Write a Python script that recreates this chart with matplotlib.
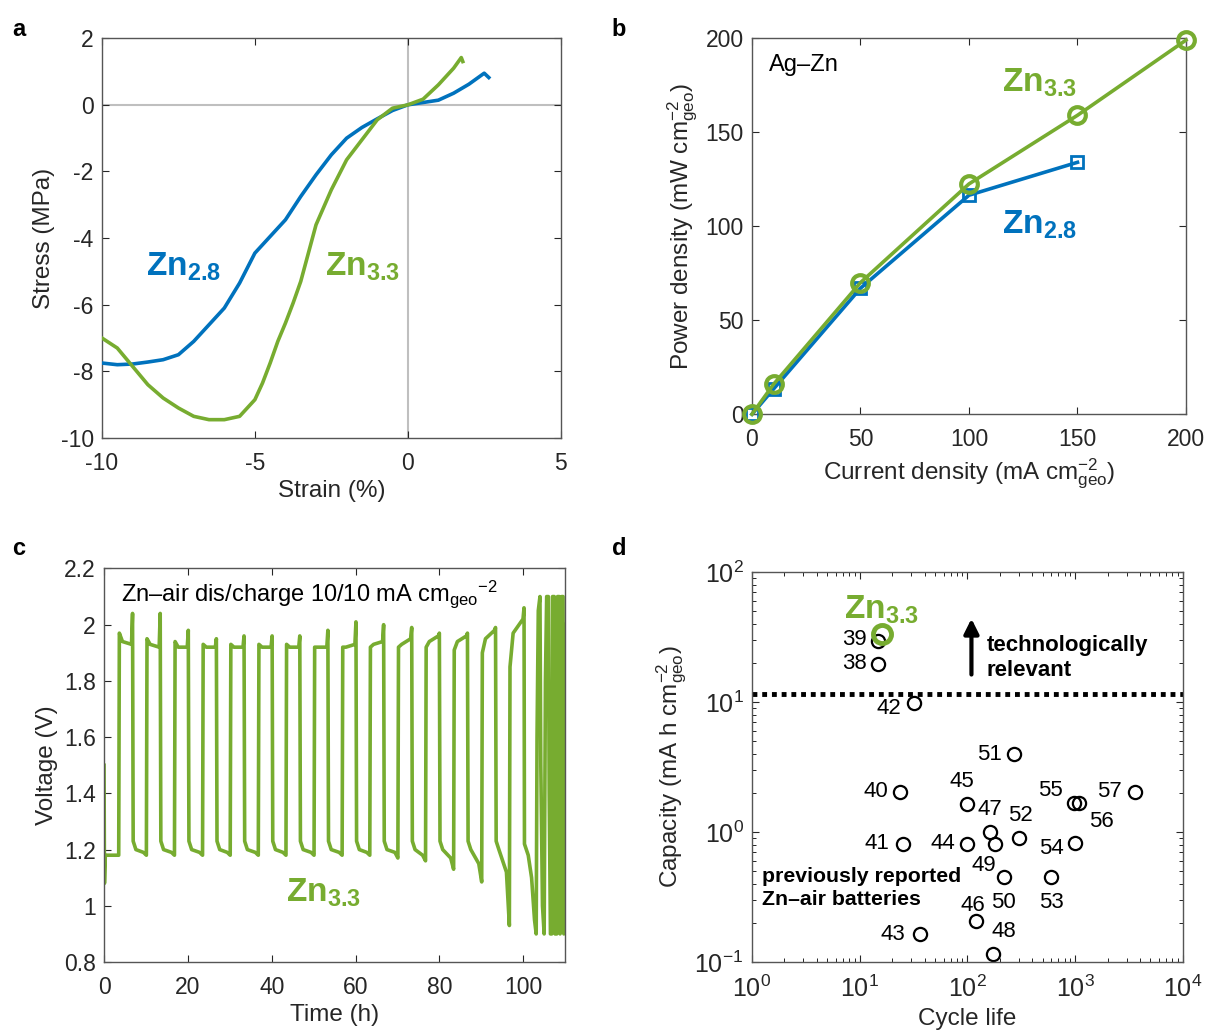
import numpy as np
import matplotlib
matplotlib.use('Agg')
import matplotlib.pyplot as plt
from matplotlib.ticker import FormatStrFormatter, LogLocator, NullFormatter

plt.rcParams['font.family'] = 'Liberation Sans'
plt.rcParams['mathtext.fontset'] = 'custom'
plt.rcParams['mathtext.rm'] = 'Liberation Sans'
plt.rcParams['mathtext.it'] = 'Liberation Sans:italic'
plt.rcParams['mathtext.bf'] = 'Liberation Sans:bold'
plt.rcParams['axes.unicode_minus'] = False

BLUE = '#0072BD'
GREEN = '#77AC30'
FRAME = '#555555'
TXT = '#262626'

##### DATA #####

# a: stress-strain
a_blue_x = [-10, -9.5, -9.0, -8.5, -8.0, -7.5, -7.0, -6.5, -6.0, -5.5, -5.0, -4.5, -4.0, -3.5,
            -3.0, -2.5, -2.0, -1.5, -1.0, -0.5, 0, 0.5, 1.0, 1.5, 2.0, 2.5, 2.65]
a_blue_y = [-7.75, -7.8, -7.78, -7.72, -7.65, -7.5, -7.1, -6.6, -6.1, -5.35, -4.45, -3.95, -3.45, -2.75,
            -2.1, -1.5, -1.0, -0.68, -0.42, -0.17, 0, 0.07, 0.14, 0.35, 0.62, 0.95, 0.82]
a_green_x = [-10, -9.5, -9.0, -8.5, -8.0, -7.5, -7.0, -6.5, -6.0, -5.5, -5.0, -4.75, -4.5, -4.25, -4.0,
             -3.75, -3.5, -3.25, -3.0, -2.5, -2.0, -1.5, -1.0, -0.5, 0, 0.5, 1.0, 1.5, 1.75, 1.8]
a_green_y = [-7.0, -7.3, -7.85, -8.4, -8.8, -9.1, -9.35, -9.45, -9.45, -9.35, -8.85, -8.35, -7.75, -7.1, -6.55,
             -5.95, -5.3, -4.45, -3.6, -2.55, -1.65, -1.05, -0.45, -0.1, 0, 0.17, 0.6, 1.1, 1.42, 1.3]

# b: power density
b_green_x = [0, 10, 50, 100, 150, 200]
b_green_y = [0, 16, 70, 122.5, 159, 199]
b_blue_x = [0, 10, 50, 100, 150]
b_blue_y = [0, 13.5, 67, 116.5, 134]

# c: Zn-air cycling, per cycle key values
c_start_t = [0.0, 0.1, 0.3]
c_start_v = [1.50, 1.08, 1.18]
c_charge_t = [3.5, 10.1, 16.8, 23.5, 30.1, 36.8, 43.4, 50.1, 56.8, 63.4, 70.1, 76.7, 83.4, 90.1, 96.7]
c_peak_t = [6.8, 13.4, 20.1, 26.8, 33.4, 40.1, 46.7, 53.4, 60.1, 66.7, 73.4, 80.0, 86.7, 93.4, 100.2]
c_charge_v0 = [1.97, 1.95, 1.94, 1.93, 1.93, 1.93, 1.93, 1.92, 1.92, 1.92, 1.92, 1.92, 1.91, 1.90, 1.85]
c_charge_v1 = [1.94, 1.93, 1.92, 1.92, 1.92, 1.92, 1.92, 1.92, 1.92, 1.93, 1.93, 1.94, 1.94, 1.95, 1.97]
c_charge_v2 = [1.93, 1.92, 1.92, 1.92, 1.92, 1.92, 1.92, 1.92, 1.93, 1.94, 1.95, 1.96, 1.96, 1.98, 2.02]
c_peak_v = [2.04, 2.04, 1.98, 1.95, 1.96, 1.96, 1.96, 1.98, 2.01, 2.00, 1.99, 1.97, 1.97, 1.99, 2.06]
c_dis_end = [1.18, 1.18, 1.18, 1.18, 1.18, 1.18, 1.18, 1.18, 1.18, 1.18, 1.17, 1.16, 1.13, 1.085, 0.93]
c_dis_pre = [1.18, 1.19, 1.19, 1.19, 1.19, 1.19, 1.19, 1.19, 1.19, 1.19, 1.19, 1.18, 1.17, 1.15, 1.12]
c_tail_t = [100.3, 101.2, 102.0, 102.7, 103.1, 103.3, 103.6, 104.0, 104.2, 104.6, 105.0, 105.3, 105.6,
            106.0, 106.2, 106.5, 106.8, 107.0, 107.4, 107.6, 108.0, 108.2, 108.6, 108.8, 109.2, 109.5,
            109.7, 109.9, 110.0]
c_tail_v = [1.22, 1.18, 1.10, 0.95, 0.90, 1.60, 2.05, 2.10, 1.50, 1.00, 0.90, 1.80, 2.10,
            2.10, 1.40, 0.90, 0.90, 2.10, 2.10, 0.90, 0.90, 2.10, 2.10, 0.90, 2.10, 2.10,
            0.90, 2.00, 2.00]

# d: capacity vs cycle life
d_refs = ['38', '39', '40', '41', '42', '43', '44', '45', '46', '47', '48', '49', '50',
          '51', '52', '53', '54', '55', '56', '57']
d_cycles = [14.8, 14.8, 23.9, 25.3, 31.8, 36, 100, 100, 119, 161, 172, 179, 217,
            271, 299, 602, 1000, 972, 1097, 3572]
d_capacity = [19.7, 29.3, 2.05, 0.815, 9.8, 0.164, 0.815, 1.64, 0.206, 1.0, 0.115, 0.815, 0.449,
              3.95, 0.906, 0.449, 0.83, 1.66, 1.66, 2.05]
d_zn_cycles = 16.2
d_zn_capacity = 33.3
d_threshold = 11.5

# label offsets (points) for panel d
d_offsets = {'38': (-17, 0), '39': (-17, 1), '40': (-18, 0), '41': (-18.5, 0), '42': (-18, -4),
             '43': (-19, 0), '44': (-18, 0), '45': (-4, 16), '46': (-2, 11), '47': (0, 16),
             '48': (8, 16), '49': (-8, -16), '50': (0, -18), '51': (-18, 0), '52': (1, 16),
             '53': (0, -18), '54': (-17, -4), '55': (-17, 9), '56': (16, -13), '57': (-18, 0)}

TICK_FS = 16.5
LABEL_FS = 17.5
ZN_FS = 24


def style_axes(ax, fs=TICK_FS):
    ax.tick_params(direction='in', top=True, right=True, labelsize=fs, colors=TXT,
                   length=5, width=0.8)
    ax.tick_params(axis='x', pad=10)
    ax.tick_params(axis='y', pad=6)
    ax.tick_params(which='minor', direction='in', top=True, right=True, length=3, width=0.6)
    for s in ax.spines.values():
        s.set_color(FRAME)
        s.set_linewidth(1.0)


fig = plt.figure(figsize=(12.07, 10.33), dpi=100)

##### PANEL A #####
ax = fig.add_axes([0.0845, 0.576, 0.380, 0.387])
ax.axhline(0, color='#BFBFBF', lw=1.5, zorder=1)
ax.axvline(0, color='#BFBFBF', lw=1.5, zorder=1)
ax.plot(a_blue_x, a_blue_y, color=BLUE, lw=2.6, zorder=3)
ax.plot(a_green_x, a_green_y, color=GREEN, lw=2.6, zorder=3)
ax.set_xlim(-10, 5)
ax.set_ylim(-10, 2)
ax.set_xticks([-10, -5, 0, 5])
ax.set_yticks([-10, -8, -6, -4, -2, 0, 2])
ax.set_xlabel('Strain (%)', fontsize=LABEL_FS, color=TXT)
ax.set_ylabel('Stress (MPa)', fontsize=LABEL_FS, color=TXT)
ax.text(-8.55, -4.85, r'Zn$_{\mathbf{2.8}}$', color=BLUE, fontsize=ZN_FS, fontweight='bold', va='center')
ax.text(-2.7, -4.85, r'Zn$_{\mathbf{3.3}}$', color=GREEN, fontsize=ZN_FS, fontweight='bold', va='center')
style_axes(ax)

##### PANEL B #####
ax = fig.add_axes([0.623, 0.599, 0.3596, 0.364])
ax.plot(b_blue_x, b_blue_y, color=BLUE, lw=2.6, marker='s', ms=8, mfc='none', mew=2,
        zorder=3, clip_on=False)
ax.plot(b_green_x, b_green_y, color=GREEN, lw=2.6, marker='o', ms=12, mfc='none', mew=3,
        zorder=4, clip_on=False)
ax.set_xlim(0, 200)
ax.set_ylim(0, 200)
ax.set_xticks([0, 50, 100, 150, 200])
ax.set_yticks([0, 50, 100, 150, 200])
ax.set_xlabel(r'Current density (mA cm$_{\mathrm{geo}}^{-2}$)', fontsize=LABEL_FS, color=TXT)
ax.set_ylabel(r'Power density (mW cm$_{\mathrm{geo}}^{-2}$)', fontsize=LABEL_FS, color=TXT)
ax.text(7.8, 186, 'Ag–Zn', fontsize=17, color='k', va='center')
ax.text(115, 176.5, r'Zn$_{\mathbf{3.3}}$', color=GREEN, fontsize=ZN_FS, fontweight='bold', va='center')
ax.text(115, 100.5, r'Zn$_{\mathbf{2.8}}$', color=BLUE, fontsize=ZN_FS, fontweight='bold', va='center')
style_axes(ax)

##### PANEL C #####
# assemble the voltage trace from the per-cycle values
t = list(c_start_t)
v = list(c_start_v)
for i in range(len(c_charge_t)):
    t += [c_charge_t[i], c_charge_t[i] + 0.15, c_charge_t[i] + 0.9, c_peak_t[i] - 0.25, c_peak_t[i]]
    v += [c_dis_end[i], c_charge_v0[i], c_charge_v1[i], c_charge_v2[i], c_peak_v[i]]
    if i + 1 < len(c_charge_t):
        t += [c_peak_t[i] + 0.15, c_peak_t[i] + 0.8, c_charge_t[i + 1] - 0.7]
        v += [1.23, 1.20, c_dis_pre[i + 1]]
t += c_tail_t
v += c_tail_v

ax = fig.add_axes([0.0862, 0.0687, 0.382, 0.381])
ax.plot(t, v, color=GREEN, lw=2.6, solid_joinstyle='round')
ax.set_xlim(0, 110)
ax.set_ylim(0.8, 2.2)
ax.set_xticks([0, 20, 40, 60, 80, 100])
ax.set_yticks([0.8, 1.0, 1.2, 1.4, 1.6, 1.8, 2.0, 2.2])
ax.yaxis.set_major_formatter(FormatStrFormatter('%g'))
ax.set_xlabel('Time (h)', fontsize=LABEL_FS, color=TXT)
ax.set_ylabel('Voltage (V)', fontsize=LABEL_FS, color=TXT)
ax.text(4.0, 2.11, r'Zn–air dis/charge 10/10 mA cm$_{\mathrm{geo}}$$^{\mathrm{-2}}$',
        fontsize=17, color='k', va='center')
ax.text(43.5, 1.045, r'Zn$_{\mathbf{3.3}}$', color=GREEN, fontsize=ZN_FS, fontweight='bold', va='center')
style_axes(ax)

##### PANEL D #####
ax = fig.add_axes([0.623, 0.0687, 0.357, 0.3775])
ax.set_xscale('log')
ax.set_yscale('log')
ax.axhline(d_threshold, color='k', lw=3.5, linestyle=(0, (1, 1)))
ax.plot(d_cycles, d_capacity, linestyle='none', marker='o', ms=9.5, mfc='none', mec='k', mew=1.6)
ax.plot([d_zn_cycles], [d_zn_capacity], linestyle='none', marker='o', ms=13, mfc='none',
        mec=GREEN, mew=3.5)
for ref, xc, yc in zip(d_refs, d_cycles, d_capacity):
    ax.annotate(ref, (xc, yc), xytext=d_offsets[ref], textcoords='offset points',
                ha='center', va='center', fontsize=16, color='k')
ax.text(15.8, 51, r'Zn$_{\mathbf{3.3}}$', color=GREEN, fontsize=ZN_FS, fontweight='bold',
        ha='center', va='center')
ax.annotate('', xy=(109, 46), xytext=(109, 15.5),
            arrowprops=dict(arrowstyle='-|>', lw=3, color='k', mutation_scale=22))
ax.text(150, 22, 'technologically\nrelevant', fontsize=16, fontweight='bold', va='center',
        linespacing=1.25)
ax.text(1.25, 0.37, 'previously reported\nZn–air batteries', fontsize=15.3, fontweight='bold',
        va='center', linespacing=1.3)
ax.set_xlim(1, 1e4)
ax.set_ylim(0.1, 100)
ax.xaxis.set_major_locator(LogLocator(base=10, numticks=10))
ax.yaxis.set_major_locator(LogLocator(base=10, numticks=10))
ax.xaxis.set_minor_locator(LogLocator(base=10, subs=np.arange(2, 10), numticks=20))
ax.yaxis.set_minor_locator(LogLocator(base=10, subs=np.arange(2, 10), numticks=20))
ax.xaxis.set_minor_formatter(NullFormatter())
ax.yaxis.set_minor_formatter(NullFormatter())
ax.set_xlabel('Cycle life', fontsize=LABEL_FS, color=TXT)
ax.set_ylabel(r'Capacity (mA h cm$_{\mathrm{geo}}^{-2}$)', fontsize=LABEL_FS, color=TXT)
style_axes(ax, fs=18)

##### PANEL LETTERS #####
for lx, ly, letter in [(0.010, 0.971, 'a'), (0.507, 0.971, 'b'), (0.010, 0.469, 'c'), (0.507, 0.469, 'd')]:
    fig.text(lx, ly, letter, fontsize=17, fontweight='bold', va='center')

fig.savefig('out.png', dpi=100)
